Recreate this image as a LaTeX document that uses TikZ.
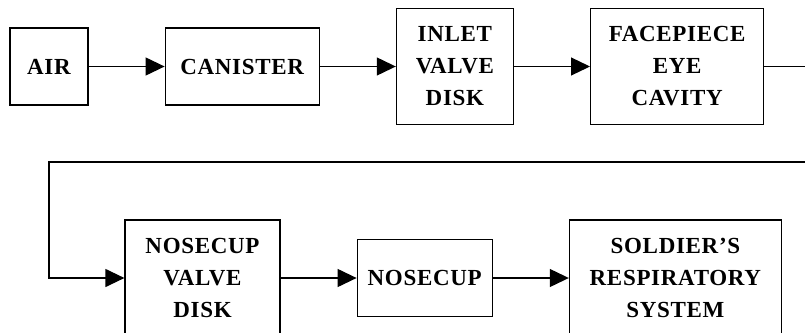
\documentclass[tikz,border=0pt]{standalone}
\usepackage{fontspec}
\setmainfont{Liberation Serif}[LetterSpace=3, Ligatures=ResetAll]
\usetikzlibrary{positioning,arrows.meta}

\begin{document}
\begin{tikzpicture}[x=1pt, y=-1pt, node distance=76pt,
    every node/.style={draw, line width=1.2pt, align=center, inner sep=2pt,
      font=\fontsize{23}{32}\selectfont\bfseries},
    flow/.style={line width=1.2pt, -{Triangle[length=19pt,width=18pt]}}]
        \useasboundingbox (0,0) rectangle (805,332);
        \clip (0,0) rectangle (805,332);

        % Upper row: air path into the facepiece
        \node (air) [minimum width=78pt, minimum height=77pt] at (49,66.5) {AIR};
        \node (can) [right =of air, minimum width=154pt, minimum height=77pt] {CANISTER};
        \node (inlet) [right =of can, minimum width=117pt, minimum height=116pt] {INLET\\VALVE\\DISK};
        \node (face) [right =of inlet, minimum width=173pt, minimum height=116pt] {FACEPIECE\\EYE\\CAVITY};

        % Lower row: nosecup to the lungs
        \node (nvd) [minimum width=155pt, minimum height=116pt] at (202.5,278) {NOSECUP\\VALVE\\DISK};
        \node (nose) [right =of nvd, minimum width=135pt, minimum height=77pt] {NOSECUP};
        \node (sold) [right =of nose, minimum width=212pt, minimum height=116pt] {SOLDIER'S\\RESPIRATORY\\SYSTEM};

        % Return line round the right edge
        \coordinate (edgeR) at (830,162);
        \coordinate (edgeL) at (49,162);

        \draw[flow] (air) -- (can);
        \draw[flow] (can) -- (inlet);
        \draw[flow] (inlet) -- (face);
        \draw[flow] (face.east) -- (face.east -| edgeR) |- (edgeL) |- (nvd.west);
        \draw[flow] (nvd) -- (nose);
        \draw[flow] (nose) -- (sold);
      \end{tikzpicture}
\end{document}
